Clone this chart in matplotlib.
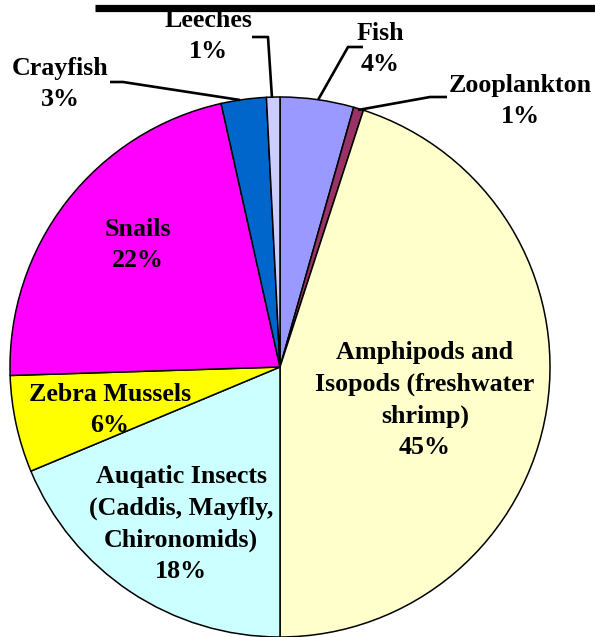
import matplotlib
matplotlib.use("Agg")
import matplotlib.pyplot as plt

# Data (clockwise from 12 o'clock)
categories = ["Fish", "Zooplankton", "Amphipods and\nIsopods (freshwater\nshrimp)",
              "Auqatic Insects\n(Caddis, Mayfly,\nChironomids)", "Zebra Mussels",
              "Snails", "Crayfish", "Leeches"]
values = [4.4, 0.6, 45.0, 18.7, 5.8, 22.0, 2.7, 0.8]
pct_labels = ["4%", "1%", "45%", "18%", "6%", "22%", "3%", "1%"]
colors = ["#9999FF", "#993366", "#FFFFCC", "#CCFFFF", "#FFFF00",
          "#FF00FF", "#0066CC", "#CCCCFF"]

W, H = 595, 637
fig = plt.figure(figsize=(W / 100, H / 100), dpi=100)
ax = fig.add_axes([0, 0, 1, 1])
ax.set_xlim(0, W)
ax.set_ylim(0, H)
ax.set_aspect("equal")
ax.axis("off")

def Y(y):
    return H - y

cx, cy, r = 280, 367, 270
ax.pie(values, colors=colors, startangle=90, counterclock=False,
       center=(cx, Y(cy)), radius=r, frame=True,
       wedgeprops=dict(edgecolor="black", linewidth=1.1))
ax.set_xlim(0, W)
ax.set_ylim(0, H)
ax.axis("off")

font = dict(family="Liberation Serif", fontweight="bold", fontsize=18.7,
            ha="center", va="center", linespacing=1.47, color="black")

# label positions (pixel coords, top origin)
label_pos = {
    0: (380, 49), 1: (520, 101), 2: (425, 400), 3: (181, 524),
    4: (110, 410), 5: (138, 245), 6: (60, 84), 7: (208, 36),
}
for i, (x, y) in label_pos.items():
    ax.text(x, Y(y), categories[i] + "\n" + pct_labels[i], **font)

# leader lines
leaders = [
    [(252, 37), (268, 37), (272, 98)],     # Leeches
    [(363, 47), (348, 47), (318, 100)],    # Fish
    [(110, 82), (123, 82), (240, 100)],    # Crayfish
    [(447, 97), (430, 97), (358, 110)],    # Zooplankton
]
for pts in leaders:
    xs = [p[0] for p in pts]
    ys = [Y(p[1]) for p in pts]
    ax.plot(xs, ys, color="black", linewidth=1.9, solid_capstyle="butt")

# top rule
ax.plot([95, 595], [Y(7.5), Y(7.5)], color="black", linewidth=5.2, solid_capstyle="butt")

fig.savefig("out.png", dpi=100)
